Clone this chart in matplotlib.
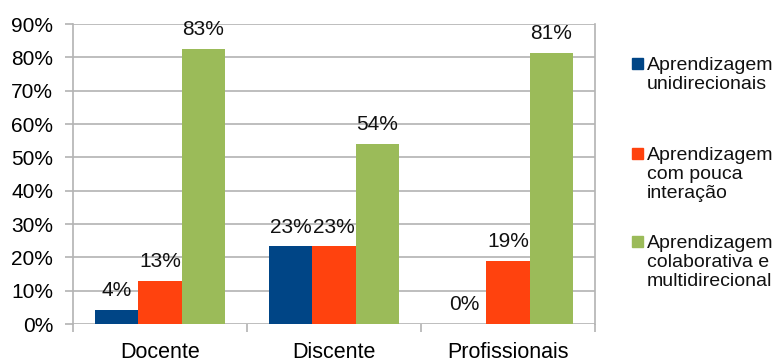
import numpy as np
import matplotlib.pyplot as plt
from matplotlib.patches import Rectangle

plt.rcParams['font.family'] = ['Liberation Sans', 'DejaVu Sans']

# Chart data
categories = ["Docente", "Discente", "Profissionais"]
series_names = ["Aprendizagem\nunidirecionais",
                "Aprendizagem\ncom pouca\ninteração",
                "Aprendizagem\ncolaborativa e\nmultidirecional"]
unidirecionais = [4.3, 23.3, 0.0]
pouca_interacao = [13.0, 23.3, 18.9]
colaborativa = [82.6, 54.0, 81.3]
series_values = [unidirecionais, pouca_interacao, colaborativa]
colors = ["#004586", "#ff420e", "#9bbb59"]
yticks = [0, 10, 20, 30, 40, 50, 60, 70, 80, 90]

W, H = 776, 361
fig = plt.figure(figsize=(W / 100, H / 100), dpi=100)
ax = fig.add_axes([73 / W, 1 - 324 / H, (595 - 73) / W, (324 - 24) / H])

grid_c = "#b3b3b3"
x = np.arange(len(categories)) + 0.5
bw = 0.25
for i, (vals, col) in enumerate(zip(series_values, colors)):
    xs = x + (i - 1) * bw
    ax.bar(xs, vals, bw, color=col, zorder=3)
    for xi, v in zip(xs, vals):
        ax.annotate(f"{v:.0f}%", (xi, v), xytext=(0, 7), textcoords="offset points",
                    ha="center", va="bottom", fontsize=15, color="#111111")

ax.set_xlim(0, len(categories))
ax.set_ylim(0, 90)
ax.set_yticks(yticks)
ax.set_yticklabels([f"{t}%" for t in yticks])
ax.yaxis.grid(True, color=grid_c, linewidth=1.2, zorder=0)

# category boundaries as major ticks, labels at centres
ax.set_xticks(np.arange(len(categories) + 1))
ax.set_xticklabels([])
ax.set_xticks(x, minor=True)
ax.set_xticklabels(categories, minor=True, fontsize=15.5)
ax.tick_params(axis="x", which="major", length=5.8, color=grid_c, width=1.2)
ax.tick_params(axis="x", which="minor", length=0, pad=13)
ax.tick_params(axis="y", length=5.8, color=grid_c, width=1.2, pad=8.5, labelsize=15)

for s in ["top", "bottom"]:
    ax.spines[s].set_visible(False)
for s in ["left", "right"]:
    ax.spines[s].set_color(grid_c)
    ax.spines[s].set_linewidth(1.2)

# legend drawn by hand to match the uneven spacing
leg_tops = [57, 147, 235]
for name, col, top in zip(series_names, colors, leg_tops):
    fig.patches.append(Rectangle((632 / W, 1 - (top + 12) / H), 11 / W, 11 / H,
                                 transform=fig.transFigure, color=col))
    fig.text(647 / W, 1 - top / H, name, va="top", ha="left", fontsize=14,
             color="#111111", linespacing=1.15)

fig.savefig("out.png", dpi=100)
